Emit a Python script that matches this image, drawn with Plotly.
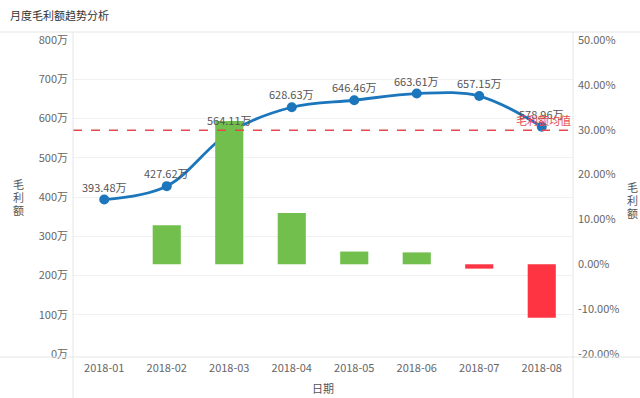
import plotly.graph_objects as go

months = ["2018-01", "2018-02", "2018-03", "2018-04", "2018-05", "2018-06", "2018-07", "2018-08"]
gross_profit = [393.48, 427.62, 564.11, 628.63, 646.46, 663.61, 657.15, 578.96]  # 万
growth_pct = [None, 8.68, 31.92, 11.44, 2.84, 2.65, -0.97, -11.90]  # %
avg_profit = 570.0
left_ticks = [0, 100, 200, 300, 400, 500, 600, 700, 800]
right_ticks = [-20, -10, 0, 10, 20, 30, 40, 50]

FONT = "Noto Sans CJK SC, Liberation Sans, sans-serif"
GREEN = "#72bf4d"
RED = "#fe3443"
BLUE = "#1b76bc"
GRID = "#e6e6e6"

bar_colors = [GREEN if (v is not None and v >= 0) else RED for v in growth_pct]

fig = go.Figure()
fig.add_trace(go.Scatter(
    x=months, y=gross_profit, mode="lines+markers",
    line=dict(color=BLUE, width=2.8, shape="spline", smoothing=1.0),
    marker=dict(color=BLUE, size=10),
    yaxis="y", hoverinfo="skip", showlegend=False,
))
fig.add_trace(go.Bar(
    x=months, y=growth_pct, marker=dict(color=bar_colors, line=dict(width=0)),
    width=0.45, yaxis="y2", showlegend=False, hoverinfo="skip",
))

W0, H0, L, B = 500, 314, 73, 44
def px(xp):
    return (xp - L) / W0
def py(yp):
    return (398 - yp - B) / H0

annotations = []
for m, v in zip(months, gross_profit):
    annotations.append(dict(x=m, y=v, xref="x", yref="y", text=f"{v:.2f}万",
                            showarrow=False, yshift=13, font=dict(size=11, color="#555", family=FONT)))
annotations.append(dict(x=1, y=avg_profit, xref="paper", yref="y", text="毛利额均值",
                        showarrow=False, xanchor="right", yanchor="bottom", yshift=0,
                        font=dict(size=11, color="#e5484d", family=FONT)))
annotations.append(dict(x=px(8), y=py(15), xref="paper", yref="paper", text="月度毛利额趋势分析",
                        showarrow=False, xanchor="left", yanchor="middle",
                        font=dict(size=11, color="#333", family=FONT)))
for cx, cy0 in [(18, 184), (632, 187)]:
    for i, ch in enumerate("毛利额"):
        annotations.append(dict(x=px(cx), y=py(cy0 + 13 * i), xref="paper", yref="paper", text=ch,
                                showarrow=False, xanchor="center", yanchor="middle",
                                font=dict(size=11, color="#555", family=FONT)))
annotations.append(dict(x=0.5, y=py(388), xref="paper", yref="paper", text="日期",
                        showarrow=False, xanchor="center", yanchor="middle",
                        font=dict(size=11, color="#555", family=FONT)))

shapes = [
    dict(type="line", xref="paper", yref="y", x0=0, x1=1, y0=avg_profit, y1=avg_profit,
         line=dict(color="#e5484d", width=1.5, dash="dash"), layer="above"),
    dict(type="line", xref="paper", yref="paper", x0=px(0), x1=px(640), y0=py(32), y1=py(32),
         line=dict(color=GRID, width=1)),
    dict(type="line", xref="paper", yref="paper", x0=px(0), x1=px(640), y0=py(357), y1=py(357),
         line=dict(color=GRID, width=1)),
    dict(type="line", xref="paper", yref="paper", x0=0, x1=0, y0=py(32), y1=py(398),
         line=dict(color=GRID, width=1)),
    dict(type="line", xref="paper", yref="paper", x0=1, x1=1, y0=py(32), y1=py(398),
         line=dict(color=GRID, width=1)),
]

fig.update_layout(
    width=640, height=398,
    margin=dict(l=L, r=640 - L - W0, t=398 - B - H0, b=B),
    paper_bgcolor="white", plot_bgcolor="white",
    font=dict(family=FONT, size=11, color="#666"),
    xaxis=dict(type="category", range=[-0.5, 7.5], showgrid=False, showline=False, zeroline=False,
               ticks="", ticklabelstandoff=6, tickfont=dict(size=11, color="#666")),
    yaxis=dict(range=[0, 800], tickvals=left_ticks, ticktext=[f"{v}万" for v in left_ticks],
               showgrid=True, gridcolor="#f1f1f1", gridwidth=1, zeroline=False, showline=False,
               ticks="", ticklabelstandoff=4, tickfont=dict(size=11, color="#666")),
    yaxis2=dict(range=[-20, 50], overlaying="y", side="right", tickvals=right_ticks,
                ticktext=[f"{v:.2f}%" for v in right_ticks], showgrid=False, zeroline=False,
                showline=False, ticks="", ticklabelstandoff=4, tickfont=dict(size=11, color="#666")),
    annotations=annotations, shapes=shapes, showlegend=False,
    bargap=0.5,
)

fig.write_html("out.html", config={"displayModeBar": False},
               post_script="document.body.style.margin='0';document.body.style.overflow='hidden';")
